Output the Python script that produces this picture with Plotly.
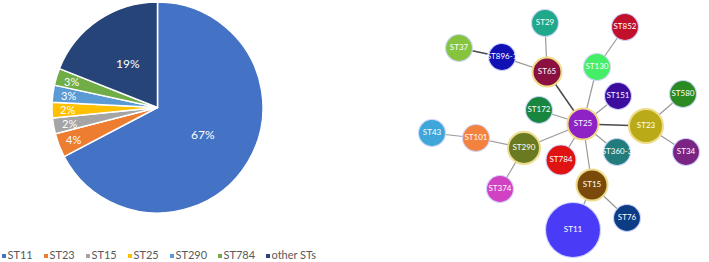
import math
import plotly.graph_objects as go

# ---------------- Pie data ----------------
pie_labels = ["ST11", "ST23", "ST15", "ST25", "ST290", "ST784", "other STs"]
pie_values = [67.3, 3.7, 2.4, 2.4, 2.6, 2.6, 19.0]
pie_colors = ["#4472C4", "#ED7D31", "#A5A5A5", "#FFC000", "#5B9BD5", "#70AD47", "#264478"]

# ---------------- Network data ----------------
node_names = ["ST29", "ST852", "ST37", "ST896-1", "ST65", "ST130", "ST151", "ST580",
              "ST172", "ST25", "ST23", "ST43", "ST101", "ST290", "ST784", "ST360-3",
              "ST34", "ST374", "ST15", "ST76", "ST11"]
node_x = [545, 625, 459, 502, 547, 597, 618, 683,
          539, 583, 646, 432, 476, 524, 561, 617,
          686, 500, 592, 627, 573]
node_y = [23, 27, 48, 57, 72, 67, 96, 94,
          110, 124, 126, 133, 138, 148, 160, 152,
          152, 189, 185, 218, 230]
node_size = [27, 27, 27, 27, 29, 27, 27, 27,
             27, 31, 34, 27, 27, 32, 30, 27,
             27, 27, 31, 27, 55]
node_colors = ["#1FA88A", "#C0102C", "#86C440", "#1010B4", "#8A1040", "#44EE66", "#3C0C9C", "#2C8A22",
               "#18863E", "#8E22C4", "#BAAA18", "#3EA6D8", "#F2823E", "#6A7A22", "#E01212", "#237C7C",
               "#7A2484", "#D042C2", "#7A4A0A", "#0C3C84", "#4A3CF6"]
node_ring = ["ST65", "ST25", "ST290", "ST15", "ST23"]
edges = [("ST37", "ST896-1"), ("ST896-1", "ST65"), ("ST29", "ST65"), ("ST65", "ST25"),
         ("ST852", "ST130"), ("ST130", "ST25"), ("ST151", "ST25"), ("ST172", "ST25"),
         ("ST25", "ST23"), ("ST23", "ST580"), ("ST23", "ST34"), ("ST25", "ST290"),
         ("ST290", "ST101"), ("ST101", "ST43"), ("ST290", "ST374"), ("ST25", "ST784"),
         ("ST25", "ST360-3"), ("ST25", "ST15"), ("ST15", "ST11"), ("ST15", "ST76")]
dark_edges = [("ST37", "ST896-1"), ("ST65", "ST25"), ("ST25", "ST23")]

W, H = 709, 262
fig = go.Figure()

# Pie geometry (layout)
cx, cy, R = 157.5, 107.5, 105.5
fig.add_trace(go.Pie(
    labels=pie_labels, values=pie_values, sort=False, direction="clockwise", rotation=0,
    marker=dict(colors=pie_colors, line=dict(color="white", width=1.5)),
    textinfo="none", hoverinfo="skip", showlegend=False,
    domain=dict(x=[(cx - R) / W, (cx + R) / W], y=[1 - (cy + R) / H, 1 - (cy - R) / H]),
))

# pie labels computed from data
total = sum(pie_values)
cum = 0
for lab, v in zip(pie_labels, pie_values):
    mid = (cum + v / 2) / total * 2 * math.pi
    cum += v
    frac = v / total
    r = 0.5 * R if frac > 0.1 else 0.85 * R
    fig.add_annotation(x=cx + r * math.sin(mid), y=cy - r * math.cos(mid), xref="x", yref="y",
                       text=f"{round(frac * 100)}%", showarrow=False,
                       font=dict(family="Lato", size=11 if frac < 0.1 else 12, color="white"))

# legend (markers + text)
leg_x = [4, 46, 88, 130, 172, 220, 268]
fig.add_trace(go.Scatter(
    x=leg_x, y=[256] * len(leg_x), mode="markers+text", text=pie_labels,
    textposition="middle right",
    marker=dict(symbol="square", size=4, color=pie_colors),
    textfont=dict(family="Lato", size=11, color="#595959"),
    hoverinfo="skip", showlegend=False, cliponaxis=False,
))

# network edges
pos = {n: (x, y) for n, x, y in zip(node_names, node_x, node_y)}
ex, ey, dx_, dy_ = [], [], [], []
for a, b in edges:
    if (a, b) in dark_edges:
        dx_ += [pos[a][0], pos[b][0], None]
        dy_ += [pos[a][1], pos[b][1], None]
    else:
        ex += [pos[a][0], pos[b][0], None]
        ey += [pos[a][1], pos[b][1], None]
fig.add_trace(go.Scatter(x=ex, y=ey, mode="lines", line=dict(color="#9a9a9a", width=1.2),
                         hoverinfo="skip", showlegend=False))
fig.add_trace(go.Scatter(x=dx_, y=dy_, mode="lines", line=dict(color="#4a4a4a", width=1.5),
                         hoverinfo="skip", showlegend=False))

# nodes
line_cols = ["#EEDC8A" if n in node_ring else "rgba(210,215,255,0.9)" for n in node_names]
line_w = [2 if n in node_ring else 1.2 for n in node_names]
fig.add_trace(go.Scatter(
    x=node_x, y=node_y, mode="markers+text", text=node_names, textposition="middle center",
    marker=dict(size=node_size, color=node_colors, line=dict(color=line_cols, width=line_w), opacity=1),
    textfont=dict(family="Lato", size=8, color="white"),
    hoverinfo="skip", showlegend=False, cliponaxis=False,
))

fig.update_layout(
    width=W, height=H, margin=dict(l=0, r=0, t=0, b=0),
    paper_bgcolor="white", plot_bgcolor="white", showlegend=False,
    xaxis=dict(range=[0, W], visible=False, domain=[0, 1], fixedrange=True),
    yaxis=dict(range=[H, 0], visible=False, domain=[0, 1], fixedrange=True),
    hovermode=False,
)
fig.write_html("out.html", config={"displayModeBar": False},
               post_script="document.body.style.margin='0';document.body.style.overflow='hidden';")
